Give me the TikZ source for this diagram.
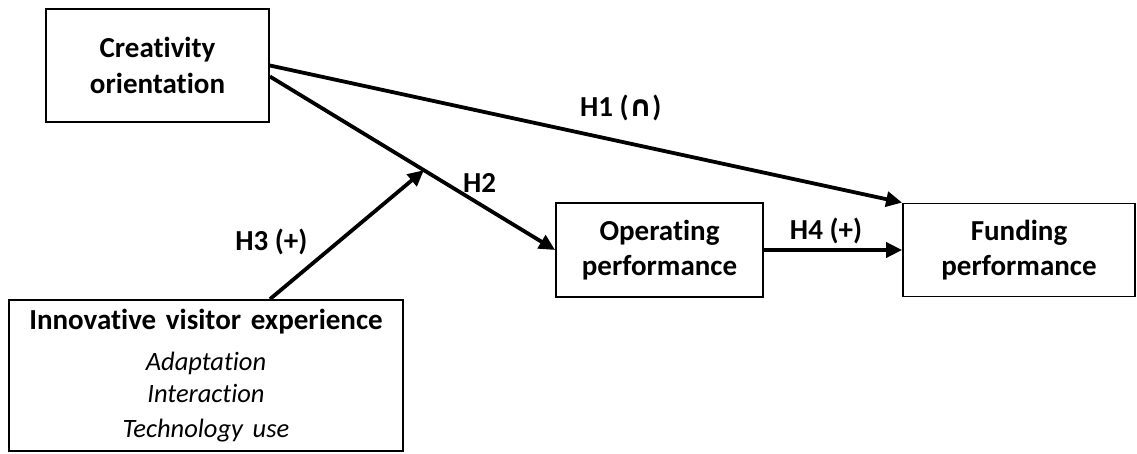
\documentclass[tikz,border=0pt]{standalone}
\usepackage{fontspec}
\setmainfont{Carlito}[Ligatures=NoCommon]
\newfontfamily\symbolfont{DejaVu Sans}
\usepackage{tikz}
\usetikzlibrary{positioning}
\usetikzlibrary{arrows.meta}
\tikzstyle{construct} = [rectangle, draw=black, line width=1.8pt, text centered, align=center, font=\fontsize{29}{35.4}\selectfont\bfseries]
\tikzstyle{hyp} = [inner sep=0pt, font=\fontsize{29}{35.4}\selectfont\bfseries]
\tikzstyle{arrow} = [line width=3.8pt,-{Triangle[length=16pt,width=15pt]}]

\begin{document}
\begin{tikzpicture}[node distance=100pt]
        \useasboundingbox (0,0) rectangle (1137pt,453pt);
        \node (creativity) [construct, minimum width=223pt, minimum height=113pt] at (157.5pt,387.5pt) {Creativity\\orientation};
        \node (operating) [construct, right of=creativity, xshift=402pt, yshift=-184.5pt, minimum width=207pt, minimum height=94pt] {Operating\\performance};
        \node (funding) [construct, right of=operating, xshift=259.5pt, minimum width=232pt, minimum height=93pt] {Funding\\performance};
        \node (visitor) [construct, below of=creativity, xshift=48.5pt, yshift=-210pt, minimum width=394pt, minimum height=151pt, text width=380pt] {Innovative visitor experience\\[9pt]\fontsize{26.5}{32}\selectfont\mdseries\itshape Adaptation\\Interaction\\Technology use};

        \draw [arrow] (creativity.east) -- node[hyp, pos=0.555, anchor=base, yshift=25pt] {H1 ({\symbolfont ∩})} (funding.north west);
        \draw [arrow] ([yshift=-11pt]creativity.east) -- coordinate[pos=0.54] (moderation) node[hyp, pos=0.735, anchor=base, yshift=12pt] {H2} (operating.west);
        \draw [arrow] ([xshift=64pt]visitor.north) -- node[hyp, pos=0.45, anchor=base east, xshift=-30pt, yshift=-9pt] {H3 (+)} (moderation);
        \draw [arrow] (operating.east) -- node[hyp, anchor=base, xshift=-7pt, yshift=11pt] {H4 (+)} (funding.west);
    \end{tikzpicture}
\end{document}
